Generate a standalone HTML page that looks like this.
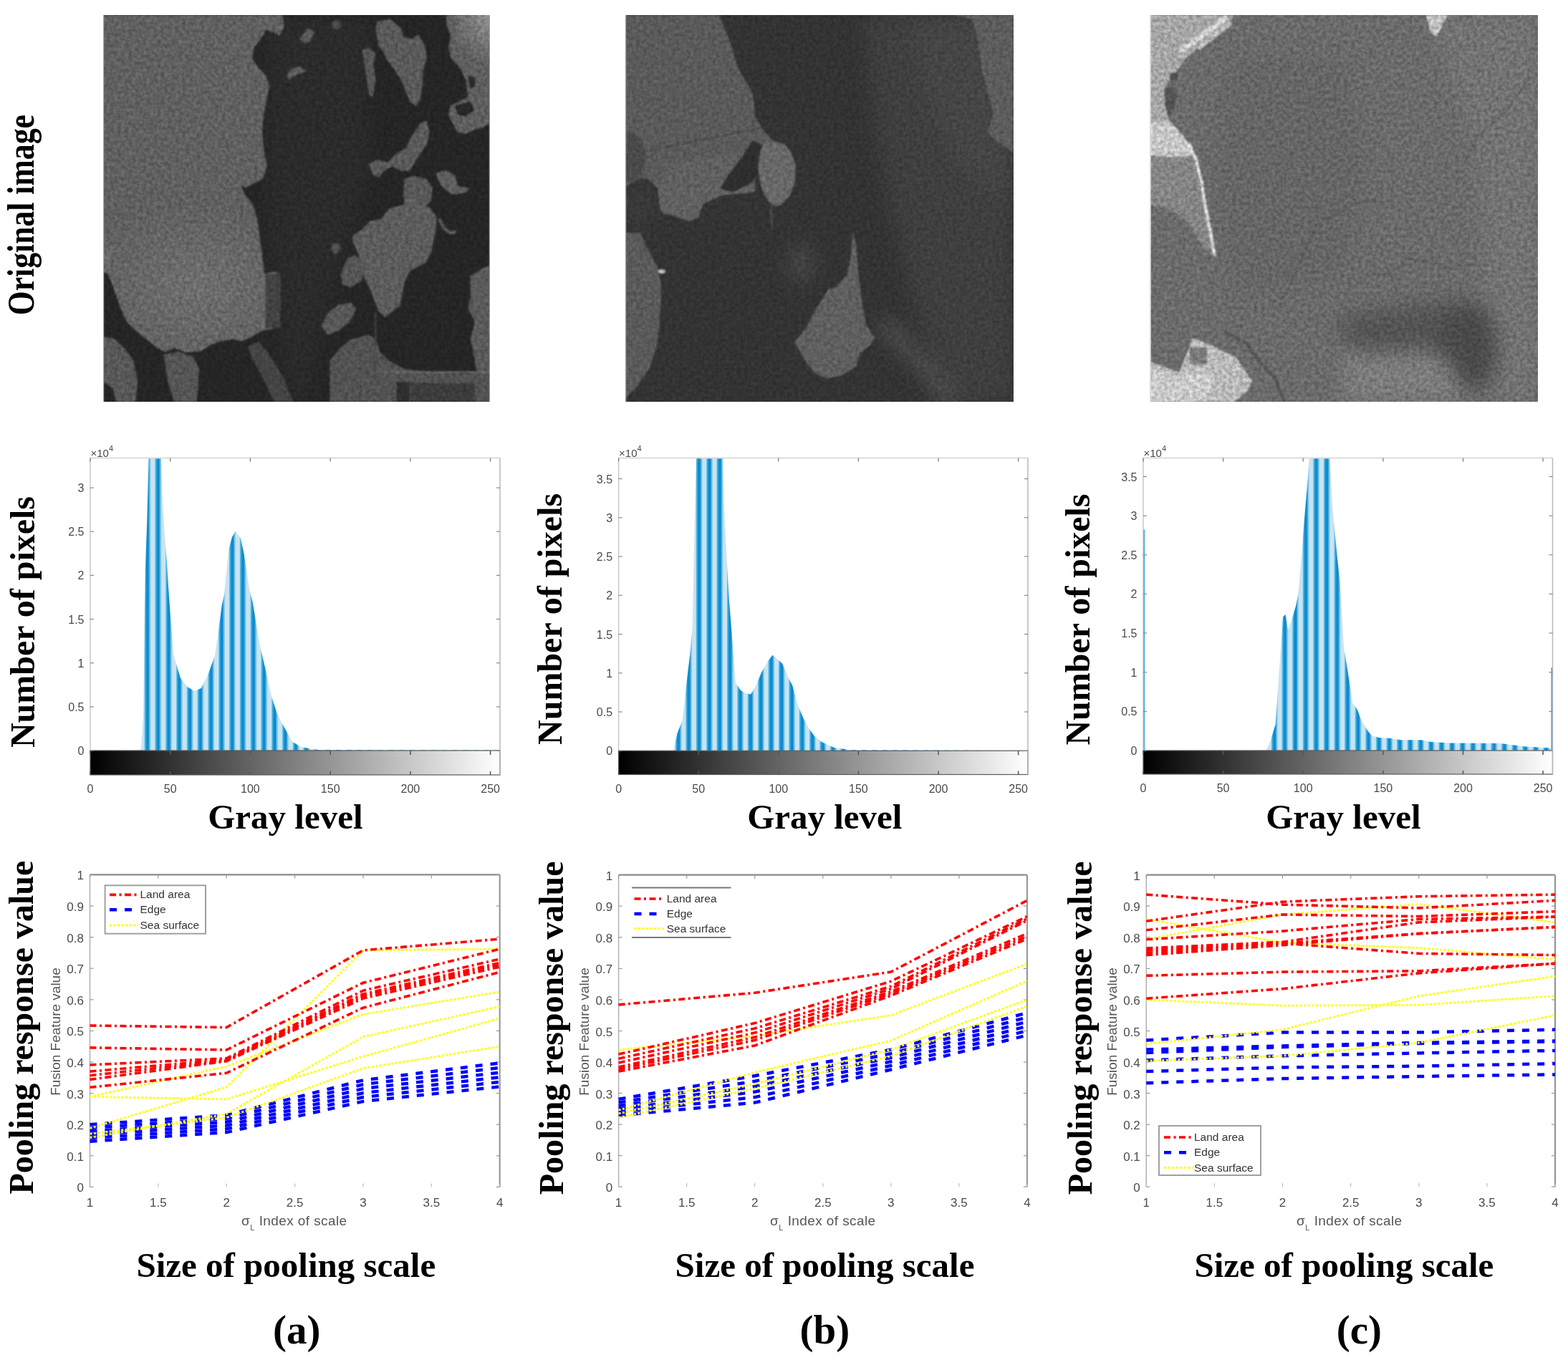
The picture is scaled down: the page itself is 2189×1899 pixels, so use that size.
<!DOCTYPE html>
<html><head><meta charset="utf-8"><title>Figure</title>
<style>
html,body{margin:0;padding:0;background:#fff;width:2189px;height:1899px;overflow:hidden}
svg.main{position:absolute;left:0;top:0;display:block}
.big{font-family:'Liberation Serif', 'Times New Roman', serif;font-weight:bold;fill:#000}
.tk{font-family:'Liberation Sans', Arial, sans-serif;font-size:16px;fill:#4a4a4a}
.tk2{font-family:'Liberation Sans', Arial, sans-serif;font-size:17px;fill:#4a4a4a}
.lg{font-family:'Liberation Sans', Arial, sans-serif;font-size:15.5px;fill:#333}
.sm{font-family:'Liberation Sans', Arial, sans-serif;font-size:19px;fill:#555}
.xl{font-family:'Liberation Sans', Arial, sans-serif;font-size:19px;fill:#555;letter-spacing:0.4px}
</style></head><body>
<svg class="main" width="2189" height="1899" viewBox="0 0 2189 1899" xmlns="http://www.w3.org/2000/svg">
<defs>
<filter id="soft0" filterUnits="userSpaceOnUse" x="-200" y="-200" width="2192" height="2192" color-interpolation-filters="sRGB"><feGaussianBlur stdDeviation="45"/></filter>
<filter id="sf0" filterUnits="userSpaceOnUse" x="0" y="0" width="1792" height="1792" color-interpolation-filters="sRGB"><feGaussianBlur in="SourceGraphic" stdDeviation="4" result="b"/><feTurbulence type="fractalNoise" baseFrequency="0.06" numOctaves="3" seed="3" result="n"/><feColorMatrix in="n" type="matrix" values="1 0 0 0 0  1 0 0 0 0  1 0 0 0 0  0 0 0 0 1" result="g"/><feComposite in="b" in2="g" operator="arithmetic" k1="0.55" k2="0.725" k3="0" k4="0"/></filter>
<clipPath id="c_g1land"><polygon points="0,0 830,0 840,50 820,95 790,80 755,70 730,110 700,150 690,200 715,240 755,280 770,330 760,380 750,430 740,490 738,560 748,650 760,700 740,760 700,780 660,800 640,790 655,830 695,880 715,950 728,1050 738,1120 748,1200 790,1190 820,1200 822,1300 820,1440 790,1452 740,1462 690,1490 640,1512 600,1502 540,1512 490,1532 450,1560 380,1562 330,1542 290,1562 250,1542 200,1502 150,1462 110,1422 90,1380 60,1300 40,1240 20,1200 0,1190"/></clipPath>
<radialGradient id="g1land"><stop offset="0" stop-color="#747474" stop-opacity="0.75"/><stop offset="1" stop-color="#747474" stop-opacity="0"/></radialGradient>
<radialGradient id="g1corner"><stop offset="0" stop-color="#929292" stop-opacity="1"/><stop offset="1" stop-color="#929292" stop-opacity="0"/></radialGradient>
<filter id="soft1" filterUnits="userSpaceOnUse" x="-200" y="-200" width="2199" height="2192" color-interpolation-filters="sRGB"><feGaussianBlur stdDeviation="45"/></filter>
<filter id="sf1" filterUnits="userSpaceOnUse" x="0" y="0" width="1799" height="1792" color-interpolation-filters="sRGB"><feGaussianBlur in="SourceGraphic" stdDeviation="4" result="b"/><feTurbulence type="fractalNoise" baseFrequency="0.06" numOctaves="3" seed="4" result="n"/><feColorMatrix in="n" type="matrix" values="1 0 0 0 0  1 0 0 0 0  1 0 0 0 0  0 0 0 0 1" result="g"/><feComposite in="b" in2="g" operator="arithmetic" k1="0.5" k2="0.75" k3="0" k4="0"/></filter>
<filter id="soft2" filterUnits="userSpaceOnUse" x="-200" y="-200" width="2199" height="2192" color-interpolation-filters="sRGB"><feGaussianBlur stdDeviation="45"/></filter>
<filter id="sf2" filterUnits="userSpaceOnUse" x="0" y="0" width="1799" height="1792" color-interpolation-filters="sRGB"><feGaussianBlur in="SourceGraphic" stdDeviation="4" result="b"/><feTurbulence type="fractalNoise" baseFrequency="0.06" numOctaves="3" seed="5" result="n"/><feColorMatrix in="n" type="matrix" values="1 0 0 0 0  1 0 0 0 0  1 0 0 0 0  0 0 0 0 1" result="g"/><feComposite in="b" in2="g" operator="arithmetic" k1="0.55" k2="0.725" k3="0" k4="0"/></filter>
<linearGradient id="cbar" x1="0" y1="0" x2="1" y2="0"><stop offset="0" stop-color="#000"/><stop offset="1" stop-color="#fff"/></linearGradient>
<clipPath id="hclip0"><polygon points="194.4,1048 194.4,1048 197,1046 200,1000 202.8,795 205.2,731 207.6,639.5 225,639.5 227,700 229.2,738 232.8,783 235.2,822 237.6,855 242.4,915 246,927 252,947 261.6,959 271.2,965 280.8,961 290.4,942 300,915 304.8,882 309.6,846 313.2,829 319.2,767 324,750 328.8,741.6 336,752 340.8,774 348,822 352.8,841 362.4,899 369.6,930 379.2,973 386.4,995 396,1014 408,1035.6 420,1043 444,1047 698,1047.5 698,1048"/><rect x="126" y="639.5" width="1" height="0"/></clipPath>
<pattern id="hpat0" patternUnits="userSpaceOnUse" x="302.2" y="0" width="14.8" height="2000"><rect x="0" y="0" width="14.8" height="2000" fill="#c8e4f3"/><rect x="3.3" y="0" width="1.8" height="2000" fill="#40afdd"/><rect x="5.1" y="0" width="4.6" height="2000" fill="#0b8bd0"/><rect x="9.7" y="0" width="1.8" height="2000" fill="#70c1e5"/></pattern>
<clipPath id="hclip1"><polygon points="940,1048.3 940,1048 945.5,1024 952.6,1006 959.7,942.7 963.2,914.5 966.7,875.6 970.3,702.5 972,639.6 1009,639.6 1011,709.5 1014.5,780 1018,840 1021.5,882.7 1026.8,953 1034,964 1041,968 1048,969.6 1054,960 1063.7,937.5 1072.8,922 1078.5,914.7 1085,920 1092.3,926.8 1100,945 1106.2,957 1114,985 1121.8,1003.6 1129.3,1017 1136.4,1027 1147,1036 1164.6,1044 1189,1047.3 1435,1048 1435,1048.3"/><rect x="863.6" y="639.6" width="1" height="0"/></clipPath>
<pattern id="hpat1" patternUnits="userSpaceOnUse" x="1040.9" y="0" width="14.4" height="2000"><rect x="0" y="0" width="14.4" height="2000" fill="#c8e4f3"/><rect x="3.1" y="0" width="1.8" height="2000" fill="#40afdd"/><rect x="4.9" y="0" width="4.6" height="2000" fill="#0b8bd0"/><rect x="9.5" y="0" width="1.8" height="2000" fill="#70c1e5"/></pattern>
<clipPath id="hclip2"><polygon points="1768,1048 1768,1048 1773.5,1034.6 1780.6,1011.7 1787.6,911 1791,861.5 1794.7,858 1798,879 1803.5,865 1808.8,847 1812.4,829.7 1817.7,766 1821,723.7 1824.7,681 1828,639.6 1856.5,639.6 1860,706 1863.6,745 1867,780 1870.7,812 1876,904 1881.3,935.7 1888.3,981.6 1895,991 1900,1005 1909.6,1020.8 1914.8,1027 1925.4,1030 1940,1030.7 1955,1033.3 1984,1033.3 1998,1035.9 2024.4,1037.5 2095,1038 2130,1042.4 2165.7,1044.5 2167,1046 2167,1048"/><rect x="1596" y="639.6" width="1" height="0"/></clipPath>
<pattern id="hpat2" patternUnits="userSpaceOnUse" x="1918" y="0" width="14.6" height="2000"><rect x="0" y="0" width="14.6" height="2000" fill="#c8e4f3"/><rect x="3.2" y="0" width="1.8" height="2000" fill="#40afdd"/><rect x="5" y="0" width="4.6" height="2000" fill="#0b8bd0"/><rect x="9.6" y="0" width="1.8" height="2000" fill="#70c1e5"/></pattern>
</defs>
<svg x="144" y="21" width="540" height="540" viewBox="0 0 1792 1792" preserveAspectRatio="none">
<g filter="url(#sf0)">
<rect x="-40" y="-40" width="1872" height="1872" fill="#252525"/>
<g filter="url(#soft0)">
<polygon points="760,0 1250,0 1220,400 1240,700 1150,1000 1060,1300 1000,1500 950,1792 860,1792 820,1500 760,1000" fill="#2b2b2b"/>
</g>
<polygon points="0,0 830,0 840,50 820,95 790,80 755,70 730,110 700,150 690,200 715,240 755,280 770,330 760,380 750,430 740,490 738,560 748,650 760,700 740,760 700,780 660,800 640,790 655,830 695,880 715,950 728,1050 738,1120 748,1200 790,1190 820,1200 822,1300 820,1440 790,1452 740,1462 690,1490 640,1512 600,1502 540,1512 490,1532 450,1560 380,1562 330,1542 290,1562 250,1542 200,1502 150,1462 110,1422 90,1380 60,1300 40,1240 20,1200 0,1190" fill="#606060"/>
<ellipse cx="430" cy="1250" rx="520" ry="380" fill="url(#g1land)" clip-path="url(#c_g1land)"/>
<rect x="752" y="1200" width="70" height="250" fill="#3a3a3a" fill-opacity="0.8"/>
<ellipse cx="15" cy="1120" rx="30" ry="50" fill="#6a6a6a"/>
<polygon points="0,1490 50,1500 100,1545 140,1600 160,1700 150,1792 60,1792 45,1730 0,1700" fill="#585858"/>
<polygon points="280,1575 350,1560 420,1585 445,1640 435,1792 330,1792 300,1700" fill="#555555"/>
<polygon points="670,1535 720,1512 765,1565 835,1680 880,1792 790,1792 740,1680 690,1590" fill="#444444"/>
<polygon points="910,110 950,60 980,80 960,120 930,132" fill="#5a5a5a"/>
<polygon points="850,285 868,252 910,238 942,260 918,270 885,282 862,300" fill="#5e5e5e"/>
<ellipse cx="1080" cy="45" rx="22" ry="22" fill="#4a4a4a"/>
<polygon points="1270,30 1330,20 1380,60 1390,100 1430,110 1460,90 1490,140 1500,200 1482,260 1480,320 1470,390 1450,422 1420,400 1400,350 1380,300 1360,270 1340,240 1310,200 1300,170 1280,150 1270,110 1262,60" fill="#5a5a5a"/>
<polygon points="1200,160 1232,150 1262,180 1252,230 1262,300 1250,380 1232,372 1222,300 1210,230" fill="#555555"/>
<polygon points="1590,0 1792,0 1792,500 1760,520 1720,532 1680,552 1640,542 1620,502 1600,462 1610,420 1650,400 1690,380 1680,300 1660,260 1640,230 1610,200 1600,150 1610,100 1590,40" fill="#5e5e5e"/>
<ellipse cx="1792" cy="0" rx="190" ry="230" fill="url(#g1corner)"/>
<polygon points="1690,280 1720,290 1725,330 1700,340" fill="#282828"/>
<polygon points="1630,420 1700,400 1720,440 1680,470 1640,460" fill="#282828"/>
<polygon points="1230,690 1270,670 1320,682 1360,640 1400,620 1430,560 1470,500 1500,490 1512,540 1500,600 1470,642 1440,690 1420,722 1380,722 1340,702 1300,722 1280,752 1250,742" fill="#5a5a5a"/>
<polygon points="1540,732 1590,720 1630,742 1642,792 1700,802 1680,822 1620,832 1590,812 1560,782" fill="#5e5e5e"/>
<polygon points="1396,760 1440,745 1500,760 1525,800 1520,860 1480,896 1420,890 1390,840" fill="#585858"/>
<polyline points="1560,950 1580,990 1610,1010 1630,1005" fill="none" stroke="#5a5a5a" stroke-width="14" stroke-linecap="round" stroke-linejoin="round"/>
<polygon points="1156,1021 1196,996 1236,956 1286,946 1326,896 1390,880 1400,840 1440,860 1511,890 1546,936 1541,996 1521,1096 1496,1146 1421,1186 1396,1236 1376,1346 1306,1401 1276,1371 1246,1296 1226,1246 1196,1196 1186,1121 1156,1046" fill="#5c5c5c"/>
<polygon points="1100,1200 1130,1130 1170,1110 1200,1150 1200,1230 1150,1262 1110,1252" fill="#555555"/>
<ellipse cx="1078" cy="1080" rx="22" ry="25" fill="#505050"/>
<polygon points="1010,1442 1040,1382 1090,1342 1150,1332 1172,1362 1142,1422 1092,1462 1042,1482" fill="#585858"/>
<polygon points="1700,1210 1760,1172 1792,1160 1792,1792 1742,1792 1740,1700 1722,1600 1702,1500 1722,1422 1692,1362 1702,1300" fill="#5a5a5a"/>
<polygon points="1050,1600 1100,1540 1150,1502 1230,1482 1262,1502 1282,1560 1322,1602 1402,1642 1500,1652 1600,1662 1700,1662 1792,1652 1792,1792 1050,1792" fill="#525252"/>
<rect x="1360" y="1700" width="60" height="92" fill="#2e2e2e"/>
<polygon points="1426,1705 1721,1705 1721,1792 1426,1792" fill="#3c3c3c"/>
<polyline points="1260,1655 1792,1655" fill="none" stroke="#6a6a6a" stroke-width="8" stroke-linecap="round" stroke-linejoin="round"/>
<polyline points="1262,1380 1262,1700" fill="none" stroke="#4a4a4a" stroke-width="6" stroke-linecap="round" stroke-linejoin="round"/>
</g>
<line x1="2" y1="0" x2="2" y2="1792" stroke="#a8a8a8" stroke-width="4"/>
<line x1="1790" y1="0" x2="1790" y2="1792" stroke="#9a9a9a" stroke-width="4"/>
</svg>
<svg x="873" y="21" width="542" height="540" viewBox="0 0 1799 1792" preserveAspectRatio="none">
<g filter="url(#sf1)">
<rect x="-40" y="-40" width="1879" height="1872" fill="#333333"/>
<g filter="url(#soft1)">
<polygon points="1100,0 1520,0 1600,40 1650,220 1690,400 1700,580 1799,650 1799,1792 1500,1792 1350,1400 1250,1000 1150,500" fill="#3f3f3f"/>
<polygon points="1300,0 1799,0 1799,900 1550,700 1400,400" fill="#454545"/>
<polyline points="1210,1440 1380,1620 1500,1792" fill="none" stroke="#4e4e4e" stroke-width="75" stroke-linecap="round" stroke-linejoin="round"/>
<ellipse cx="815" cy="1150" rx="55" ry="95" fill="#474747"/>
<ellipse cx="60" cy="880" rx="90" ry="110" fill="#3a3a3a"/>
</g>
<polygon points="0,0 435,0 488,131 522,244 592,366 601,470 644,540 690,585 640,600 600,700 600,820 450,835 360,875 340,935 300,955 265,945 210,925 175,920 160,895 150,805 100,755 50,765 0,795" fill="#5a5a5a"/>
<polygon points="160,895 150,805 200,700 400,650 550,640 600,700 600,820 450,835 360,875 340,935 300,955 265,945 210,925 175,920" fill="#606060"/>
<ellipse cx="0" cy="660" rx="95" ry="120" fill="#4a4a4a"/>
<polyline points="60,640 300,590 592,531 650,520" fill="none" stroke="#474747" stroke-width="5" stroke-linecap="round" stroke-linejoin="round"/>
<polygon points="590,580 650,610 625,705 590,775 500,820 440,805 475,745 550,645" fill="#2e2e2e"/>
<polygon points="640,590 690,585 740,600 770,640 790,700 785,780 760,840 720,880 690,885 660,860 630,800 615,720 620,650" fill="#686868"/>
<polyline points="675,885 680,985" fill="none" stroke="#505050" stroke-width="8" stroke-linecap="round" stroke-linejoin="round"/>
<polygon points="0,1009 70,1009 96,1070 148,1166 165,1244 165,1331 157,1436 148,1523 113,1636 52,1723 0,1775" fill="#5a5a5a"/>
<ellipse cx="168" cy="1188" rx="18" ry="10" fill="#c0c0c0"/>
<polygon points="1054,1000 1071,1070 1080,1201 1097,1331 1115,1436 1158,1497 1133,1532 1088,1566 1071,1627 1001,1671 932,1684 871,1654 827,1593 784,1514 836,1453 871,1384 914,1314 940,1270 975,1262 1028,1201 1045,1114" fill="#5f5f5f"/>
<polygon points="1515,0 1799,0 1799,636 1785,627 1707,575 1681,540 1707,453 1681,366 1654,261 1628,87 1602,17" fill="#5c5c5c"/>
</g>
<line x1="2" y1="0" x2="2" y2="1792" stroke="#9a9a9a" stroke-width="5"/>
</svg>
<svg x="1605" y="21" width="542" height="540" viewBox="0 0 1799 1792" preserveAspectRatio="none">
<g filter="url(#sf2)">
<rect x="-40" y="-40" width="1879" height="1872" fill="#6b6b6b"/>
<g filter="url(#soft2)">
<polygon points="1300,0 1799,0 1799,1792 1600,1792 1550,1200 1500,600" fill="#737373"/>
<polygon points="350,200 900,200 1000,700 900,1200 400,1300 300,800" fill="#666666"/>
<polygon points="880,1400 1000,1380 1200,1350 1350,1330 1500,1330 1600,1400 1620,1560 1580,1700 1480,1730 1400,1600 1300,1550 1150,1560 1000,1560 900,1520" fill="#545454"/>
<polygon points="1330,1480 1420,1340 1520,1340 1590,1480 1600,1640 1560,1720 1440,1725 1390,1640 1340,1560" fill="#4a4a4a"/>
<polygon points="896,1560 1000,1570 1150,1560 1300,1560 1400,1620 1440,1720 1450,1792 896,1792" fill="#7c7c7c"/>
</g>
<polygon points="0,0 385,0 375,50 300,100 225,150 160,210 125,260 100,280 70,340 75,400 85,460 90,490 40,500 0,500" fill="#a6a6a6"/>
<polyline points="350,15 250,90 150,165" fill="none" stroke="#d0d0d0" stroke-width="26" stroke-linecap="round" stroke-linejoin="round"/>
<polyline points="370,40 230,150" fill="none" stroke="#bdbdbd" stroke-width="20" stroke-linecap="round" stroke-linejoin="round"/>
<polygon points="95,270 130,268 125,300 95,302" fill="#4e4e4e"/>
<polygon points="68,340 110,335 125,380 110,440 85,465 72,420" fill="#535353"/>
<polygon points="0,500 90,490 130,530 180,590 210,650 120,660 0,650" fill="#c6c6c6"/>
<polygon points="0,650 120,660 210,650 235,750 255,896 290,1000 300,1116 250,1080 180,960 100,900 0,880" fill="#858585"/>
<polyline points="185,600 215,670 240,770 260,896 300,1110" fill="none" stroke="#dcdcdc" stroke-width="14" stroke-linecap="round" stroke-linejoin="round"/>
<polygon points="0,1606 135,1656 165,1586 200,1496 275,1526 400,1586 475,1696 450,1746 390,1792 0,1792" fill="#bababa"/>
<polygon points="0,1640 130,1680 250,1640 300,1700 250,1792 0,1792" fill="#cacaca"/>
<rect x="185" y="1540" width="80" height="78" fill="#7a7a7a"/>
<polygon points="1280,0 1380,0 1360,40 1330,100 1300,80" fill="#c0c0c0"/>
<polyline points="350,1471 450,1521 500,1596 575,1671 625,1792" fill="none" stroke="#575757" stroke-width="16" stroke-linecap="round" stroke-linejoin="round"/>
<polyline points="1021,1206 1121,1196 1196,1131 1321,1146 1396,1176" fill="none" stroke="#5c5c5c" stroke-width="9" stroke-linecap="round" stroke-linejoin="round"/>
<polyline points="1130,860 950,870 880,920 780,960 700,1150 600,1350" fill="none" stroke="#5c5c5c" stroke-width="8" stroke-linecap="round" stroke-linejoin="round"/>
<polyline points="1750,300 1650,450 1520,560 1450,700" fill="none" stroke="#5e5e5e" stroke-width="8" stroke-linecap="round" stroke-linejoin="round"/>
</g>
<line x1="3" y1="0" x2="3" y2="1792" stroke="#dedede" stroke-width="6"/>
</svg>
<polygon points="194.4,1048 194.4,1048 197,1046 200,1000 202.8,795 205.2,731 207.6,639.5 225,639.5 227,700 229.2,738 232.8,783 235.2,822 237.6,855 242.4,915 246,927 252,947 261.6,959 271.2,965 280.8,961 290.4,942 300,915 304.8,882 309.6,846 313.2,829 319.2,767 324,750 328.8,741.6 336,752 340.8,774 348,822 352.8,841 362.4,899 369.6,930 379.2,973 386.4,995 396,1014 408,1035.6 420,1043 444,1047 698,1047.5 698,1048" fill="url(#hpat0)"/>
<rect x="126" y="1048" width="572" height="34" fill="url(#cbar)"/>
<rect x="126" y="1048" width="572" height="34" fill="none" stroke="#5a5a5a" stroke-width="1.2"/>
<line x1="126" y1="639.5" x2="698" y2="639.5" stroke="#dcdcdc" stroke-width="2"/>
<line x1="126" y1="639.5" x2="126" y2="1048" stroke="#c8c8c8" stroke-width="1.5"/>
<line x1="698" y1="639.5" x2="698" y2="1082" stroke="#b8b8b8" stroke-width="1.5"/>
<line x1="126" y1="1048" x2="131" y2="1048" stroke="#888" stroke-width="1.2"/>
<line x1="693" y1="1048" x2="698" y2="1048" stroke="#888" stroke-width="1.2"/>
<text x="117.5" y="1054" text-anchor="end" class="tk">0</text>
<line x1="126" y1="986.9" x2="131" y2="986.9" stroke="#888" stroke-width="1.2"/>
<line x1="693" y1="986.9" x2="698" y2="986.9" stroke="#888" stroke-width="1.2"/>
<text x="117.5" y="992.9" text-anchor="end" class="tk">0.5</text>
<line x1="126" y1="925.7" x2="131" y2="925.7" stroke="#888" stroke-width="1.2"/>
<line x1="693" y1="925.7" x2="698" y2="925.7" stroke="#888" stroke-width="1.2"/>
<text x="117.5" y="931.7" text-anchor="end" class="tk">1</text>
<line x1="126" y1="864.5" x2="131" y2="864.5" stroke="#888" stroke-width="1.2"/>
<line x1="693" y1="864.5" x2="698" y2="864.5" stroke="#888" stroke-width="1.2"/>
<text x="117.5" y="870.5" text-anchor="end" class="tk">1.5</text>
<line x1="126" y1="803.4" x2="131" y2="803.4" stroke="#888" stroke-width="1.2"/>
<line x1="693" y1="803.4" x2="698" y2="803.4" stroke="#888" stroke-width="1.2"/>
<text x="117.5" y="809.4" text-anchor="end" class="tk">2</text>
<line x1="126" y1="742.2" x2="131" y2="742.2" stroke="#888" stroke-width="1.2"/>
<line x1="693" y1="742.2" x2="698" y2="742.2" stroke="#888" stroke-width="1.2"/>
<text x="117.5" y="748.2" text-anchor="end" class="tk">2.5</text>
<line x1="126" y1="681.1" x2="131" y2="681.1" stroke="#888" stroke-width="1.2"/>
<line x1="693" y1="681.1" x2="698" y2="681.1" stroke="#888" stroke-width="1.2"/>
<text x="117.5" y="687.1" text-anchor="end" class="tk">3</text>
<line x1="126" y1="639.5" x2="126" y2="644.5" stroke="#777" stroke-width="1.2"/>
<line x1="126" y1="1077" x2="126" y2="1082" stroke="#555" stroke-width="1.5"/>
<line x1="126" y1="1048" x2="126" y2="1054" stroke="#555" stroke-width="1.5"/>
<text x="126" y="1107" text-anchor="middle" class="tk">0</text>
<line x1="237.7" y1="639.5" x2="237.7" y2="644.5" stroke="#777" stroke-width="1.2"/>
<line x1="237.7" y1="1077" x2="237.7" y2="1082" stroke="#555" stroke-width="1.5"/>
<line x1="237.7" y1="1048" x2="237.7" y2="1054" stroke="#555" stroke-width="1.5"/>
<text x="237.7" y="1107" text-anchor="middle" class="tk">50</text>
<line x1="349.4" y1="639.5" x2="349.4" y2="644.5" stroke="#777" stroke-width="1.2"/>
<line x1="349.4" y1="1077" x2="349.4" y2="1082" stroke="#555" stroke-width="1.5"/>
<line x1="349.4" y1="1048" x2="349.4" y2="1054" stroke="#555" stroke-width="1.5"/>
<text x="349.4" y="1107" text-anchor="middle" class="tk">100</text>
<line x1="461.2" y1="639.5" x2="461.2" y2="644.5" stroke="#777" stroke-width="1.2"/>
<line x1="461.2" y1="1077" x2="461.2" y2="1082" stroke="#555" stroke-width="1.5"/>
<line x1="461.2" y1="1048" x2="461.2" y2="1054" stroke="#555" stroke-width="1.5"/>
<text x="461.2" y="1107" text-anchor="middle" class="tk">150</text>
<line x1="572.9" y1="639.5" x2="572.9" y2="644.5" stroke="#777" stroke-width="1.2"/>
<line x1="572.9" y1="1077" x2="572.9" y2="1082" stroke="#555" stroke-width="1.5"/>
<line x1="572.9" y1="1048" x2="572.9" y2="1054" stroke="#555" stroke-width="1.5"/>
<text x="572.9" y="1107" text-anchor="middle" class="tk">200</text>
<line x1="684.6" y1="639.5" x2="684.6" y2="644.5" stroke="#777" stroke-width="1.2"/>
<line x1="684.6" y1="1077" x2="684.6" y2="1082" stroke="#555" stroke-width="1.5"/>
<line x1="684.6" y1="1048" x2="684.6" y2="1054" stroke="#555" stroke-width="1.5"/>
<text x="684.6" y="1107" text-anchor="middle" class="tk">250</text>
<text x="126.5" y="637.5" class="tk" style="font-size:15px">&#215;10<tspan dy="-8" style="font-size:11px">4</tspan></text>
<polygon points="940,1048.3 940,1048 945.5,1024 952.6,1006 959.7,942.7 963.2,914.5 966.7,875.6 970.3,702.5 972,639.6 1009,639.6 1011,709.5 1014.5,780 1018,840 1021.5,882.7 1026.8,953 1034,964 1041,968 1048,969.6 1054,960 1063.7,937.5 1072.8,922 1078.5,914.7 1085,920 1092.3,926.8 1100,945 1106.2,957 1114,985 1121.8,1003.6 1129.3,1017 1136.4,1027 1147,1036 1164.6,1044 1189,1047.3 1435,1048 1435,1048.3" fill="url(#hpat1)"/>
<rect x="863.6" y="1048.3" width="571.4" height="33.2" fill="url(#cbar)"/>
<rect x="863.6" y="1048.3" width="571.4" height="33.2" fill="none" stroke="#5a5a5a" stroke-width="1.2"/>
<line x1="863.6" y1="639.6" x2="1435" y2="639.6" stroke="#dcdcdc" stroke-width="2"/>
<line x1="863.6" y1="639.6" x2="863.6" y2="1048.3" stroke="#c8c8c8" stroke-width="1.5"/>
<line x1="1435" y1="639.6" x2="1435" y2="1081.5" stroke="#b8b8b8" stroke-width="1.5"/>
<line x1="863.6" y1="1048.3" x2="868.6" y2="1048.3" stroke="#888" stroke-width="1.2"/>
<line x1="1430" y1="1048.3" x2="1435" y2="1048.3" stroke="#888" stroke-width="1.2"/>
<text x="855.1" y="1054.3" text-anchor="end" class="tk">0</text>
<line x1="863.6" y1="994" x2="868.6" y2="994" stroke="#888" stroke-width="1.2"/>
<line x1="1430" y1="994" x2="1435" y2="994" stroke="#888" stroke-width="1.2"/>
<text x="855.1" y="1000" text-anchor="end" class="tk">0.5</text>
<line x1="863.6" y1="939.8" x2="868.6" y2="939.8" stroke="#888" stroke-width="1.2"/>
<line x1="1430" y1="939.8" x2="1435" y2="939.8" stroke="#888" stroke-width="1.2"/>
<text x="855.1" y="945.8" text-anchor="end" class="tk">1</text>
<line x1="863.6" y1="885.5" x2="868.6" y2="885.5" stroke="#888" stroke-width="1.2"/>
<line x1="1430" y1="885.5" x2="1435" y2="885.5" stroke="#888" stroke-width="1.2"/>
<text x="855.1" y="891.5" text-anchor="end" class="tk">1.5</text>
<line x1="863.6" y1="831.3" x2="868.6" y2="831.3" stroke="#888" stroke-width="1.2"/>
<line x1="1430" y1="831.3" x2="1435" y2="831.3" stroke="#888" stroke-width="1.2"/>
<text x="855.1" y="837.3" text-anchor="end" class="tk">2</text>
<line x1="863.6" y1="777" x2="868.6" y2="777" stroke="#888" stroke-width="1.2"/>
<line x1="1430" y1="777" x2="1435" y2="777" stroke="#888" stroke-width="1.2"/>
<text x="855.1" y="783" text-anchor="end" class="tk">2.5</text>
<line x1="863.6" y1="722.8" x2="868.6" y2="722.8" stroke="#888" stroke-width="1.2"/>
<line x1="1430" y1="722.8" x2="1435" y2="722.8" stroke="#888" stroke-width="1.2"/>
<text x="855.1" y="728.8" text-anchor="end" class="tk">3</text>
<line x1="863.6" y1="668.5" x2="868.6" y2="668.5" stroke="#888" stroke-width="1.2"/>
<line x1="1430" y1="668.5" x2="1435" y2="668.5" stroke="#888" stroke-width="1.2"/>
<text x="855.1" y="674.5" text-anchor="end" class="tk">3.5</text>
<line x1="863.6" y1="639.6" x2="863.6" y2="644.6" stroke="#777" stroke-width="1.2"/>
<line x1="863.6" y1="1076.5" x2="863.6" y2="1081.5" stroke="#555" stroke-width="1.5"/>
<line x1="863.6" y1="1048.3" x2="863.6" y2="1054.3" stroke="#555" stroke-width="1.5"/>
<text x="863.6" y="1106.5" text-anchor="middle" class="tk">0</text>
<line x1="975.2" y1="639.6" x2="975.2" y2="644.6" stroke="#777" stroke-width="1.2"/>
<line x1="975.2" y1="1076.5" x2="975.2" y2="1081.5" stroke="#555" stroke-width="1.5"/>
<line x1="975.2" y1="1048.3" x2="975.2" y2="1054.3" stroke="#555" stroke-width="1.5"/>
<text x="975.2" y="1106.5" text-anchor="middle" class="tk">50</text>
<line x1="1086.8" y1="639.6" x2="1086.8" y2="644.6" stroke="#777" stroke-width="1.2"/>
<line x1="1086.8" y1="1076.5" x2="1086.8" y2="1081.5" stroke="#555" stroke-width="1.5"/>
<line x1="1086.8" y1="1048.3" x2="1086.8" y2="1054.3" stroke="#555" stroke-width="1.5"/>
<text x="1086.8" y="1106.5" text-anchor="middle" class="tk">100</text>
<line x1="1198.4" y1="639.6" x2="1198.4" y2="644.6" stroke="#777" stroke-width="1.2"/>
<line x1="1198.4" y1="1076.5" x2="1198.4" y2="1081.5" stroke="#555" stroke-width="1.5"/>
<line x1="1198.4" y1="1048.3" x2="1198.4" y2="1054.3" stroke="#555" stroke-width="1.5"/>
<text x="1198.4" y="1106.5" text-anchor="middle" class="tk">150</text>
<line x1="1310" y1="639.6" x2="1310" y2="644.6" stroke="#777" stroke-width="1.2"/>
<line x1="1310" y1="1076.5" x2="1310" y2="1081.5" stroke="#555" stroke-width="1.5"/>
<line x1="1310" y1="1048.3" x2="1310" y2="1054.3" stroke="#555" stroke-width="1.5"/>
<text x="1310" y="1106.5" text-anchor="middle" class="tk">200</text>
<line x1="1421.6" y1="639.6" x2="1421.6" y2="644.6" stroke="#777" stroke-width="1.2"/>
<line x1="1421.6" y1="1076.5" x2="1421.6" y2="1081.5" stroke="#555" stroke-width="1.5"/>
<line x1="1421.6" y1="1048.3" x2="1421.6" y2="1054.3" stroke="#555" stroke-width="1.5"/>
<text x="1421.6" y="1106.5" text-anchor="middle" class="tk">250</text>
<text x="864.1" y="637.6" class="tk" style="font-size:15px">&#215;10<tspan dy="-8" style="font-size:11px">4</tspan></text>
<polygon points="1768,1048 1768,1048 1773.5,1034.6 1780.6,1011.7 1787.6,911 1791,861.5 1794.7,858 1798,879 1803.5,865 1808.8,847 1812.4,829.7 1817.7,766 1821,723.7 1824.7,681 1828,639.6 1856.5,639.6 1860,706 1863.6,745 1867,780 1870.7,812 1876,904 1881.3,935.7 1888.3,981.6 1895,991 1900,1005 1909.6,1020.8 1914.8,1027 1925.4,1030 1940,1030.7 1955,1033.3 1984,1033.3 1998,1035.9 2024.4,1037.5 2095,1038 2130,1042.4 2165.7,1044.5 2167,1046 2167,1048" fill="url(#hpat2)"/>
<line x1="1597" y1="1048" x2="1597" y2="739.6" stroke="#2a9fd8" stroke-width="2"/>
<line x1="2166.5" y1="1048" x2="2166.5" y2="932" stroke="#2a9fd8" stroke-width="2"/>
<rect x="1596" y="1048" width="571.5" height="33" fill="url(#cbar)"/>
<rect x="1596" y="1048" width="571.5" height="33" fill="none" stroke="#5a5a5a" stroke-width="1.2"/>
<line x1="1596" y1="639.6" x2="2167.5" y2="639.6" stroke="#dcdcdc" stroke-width="2"/>
<line x1="1596" y1="639.6" x2="1596" y2="1048" stroke="#c8c8c8" stroke-width="1.5"/>
<line x1="2167.5" y1="639.6" x2="2167.5" y2="1081" stroke="#b8b8b8" stroke-width="1.5"/>
<line x1="1596" y1="1048" x2="1601" y2="1048" stroke="#888" stroke-width="1.2"/>
<line x1="2162.5" y1="1048" x2="2167.5" y2="1048" stroke="#888" stroke-width="1.2"/>
<text x="1587.5" y="1054" text-anchor="end" class="tk">0</text>
<line x1="1596" y1="993.4" x2="1601" y2="993.4" stroke="#888" stroke-width="1.2"/>
<line x1="2162.5" y1="993.4" x2="2167.5" y2="993.4" stroke="#888" stroke-width="1.2"/>
<text x="1587.5" y="999.4" text-anchor="end" class="tk">0.5</text>
<line x1="1596" y1="938.7" x2="1601" y2="938.7" stroke="#888" stroke-width="1.2"/>
<line x1="2162.5" y1="938.7" x2="2167.5" y2="938.7" stroke="#888" stroke-width="1.2"/>
<text x="1587.5" y="944.7" text-anchor="end" class="tk">1</text>
<line x1="1596" y1="884" x2="1601" y2="884" stroke="#888" stroke-width="1.2"/>
<line x1="2162.5" y1="884" x2="2167.5" y2="884" stroke="#888" stroke-width="1.2"/>
<text x="1587.5" y="890" text-anchor="end" class="tk">1.5</text>
<line x1="1596" y1="829.4" x2="1601" y2="829.4" stroke="#888" stroke-width="1.2"/>
<line x1="2162.5" y1="829.4" x2="2167.5" y2="829.4" stroke="#888" stroke-width="1.2"/>
<text x="1587.5" y="835.4" text-anchor="end" class="tk">2</text>
<line x1="1596" y1="774.8" x2="1601" y2="774.8" stroke="#888" stroke-width="1.2"/>
<line x1="2162.5" y1="774.8" x2="2167.5" y2="774.8" stroke="#888" stroke-width="1.2"/>
<text x="1587.5" y="780.8" text-anchor="end" class="tk">2.5</text>
<line x1="1596" y1="720.1" x2="1601" y2="720.1" stroke="#888" stroke-width="1.2"/>
<line x1="2162.5" y1="720.1" x2="2167.5" y2="720.1" stroke="#888" stroke-width="1.2"/>
<text x="1587.5" y="726.1" text-anchor="end" class="tk">3</text>
<line x1="1596" y1="665.5" x2="1601" y2="665.5" stroke="#888" stroke-width="1.2"/>
<line x1="2162.5" y1="665.5" x2="2167.5" y2="665.5" stroke="#888" stroke-width="1.2"/>
<text x="1587.5" y="671.5" text-anchor="end" class="tk">3.5</text>
<line x1="1596" y1="639.6" x2="1596" y2="644.6" stroke="#777" stroke-width="1.2"/>
<line x1="1596" y1="1076" x2="1596" y2="1081" stroke="#555" stroke-width="1.5"/>
<line x1="1596" y1="1048" x2="1596" y2="1054" stroke="#555" stroke-width="1.5"/>
<text x="1596" y="1106" text-anchor="middle" class="tk">0</text>
<line x1="1707.6" y1="639.6" x2="1707.6" y2="644.6" stroke="#777" stroke-width="1.2"/>
<line x1="1707.6" y1="1076" x2="1707.6" y2="1081" stroke="#555" stroke-width="1.5"/>
<line x1="1707.6" y1="1048" x2="1707.6" y2="1054" stroke="#555" stroke-width="1.5"/>
<text x="1707.6" y="1106" text-anchor="middle" class="tk">50</text>
<line x1="1819.2" y1="639.6" x2="1819.2" y2="644.6" stroke="#777" stroke-width="1.2"/>
<line x1="1819.2" y1="1076" x2="1819.2" y2="1081" stroke="#555" stroke-width="1.5"/>
<line x1="1819.2" y1="1048" x2="1819.2" y2="1054" stroke="#555" stroke-width="1.5"/>
<text x="1819.2" y="1106" text-anchor="middle" class="tk">100</text>
<line x1="1930.9" y1="639.6" x2="1930.9" y2="644.6" stroke="#777" stroke-width="1.2"/>
<line x1="1930.9" y1="1076" x2="1930.9" y2="1081" stroke="#555" stroke-width="1.5"/>
<line x1="1930.9" y1="1048" x2="1930.9" y2="1054" stroke="#555" stroke-width="1.5"/>
<text x="1930.9" y="1106" text-anchor="middle" class="tk">150</text>
<line x1="2042.5" y1="639.6" x2="2042.5" y2="644.6" stroke="#777" stroke-width="1.2"/>
<line x1="2042.5" y1="1076" x2="2042.5" y2="1081" stroke="#555" stroke-width="1.5"/>
<line x1="2042.5" y1="1048" x2="2042.5" y2="1054" stroke="#555" stroke-width="1.5"/>
<text x="2042.5" y="1106" text-anchor="middle" class="tk">200</text>
<line x1="2154.1" y1="639.6" x2="2154.1" y2="644.6" stroke="#777" stroke-width="1.2"/>
<line x1="2154.1" y1="1076" x2="2154.1" y2="1081" stroke="#555" stroke-width="1.5"/>
<line x1="2154.1" y1="1048" x2="2154.1" y2="1054" stroke="#555" stroke-width="1.5"/>
<text x="2154.1" y="1106" text-anchor="middle" class="tk">250</text>
<text x="1596.5" y="637.6" class="tk" style="font-size:15px">&#215;10<tspan dy="-8" style="font-size:11px">4</tspan></text>
<line x1="125.5" y1="1221.4" x2="697.7" y2="1221.4" stroke="#8a8a8a" stroke-width="2.2"/>
<line x1="125.5" y1="1221.4" x2="125.5" y2="1657.4" stroke="#b0b0b0" stroke-width="1.5"/>
<line x1="697.7" y1="1221.4" x2="697.7" y2="1657.4" stroke="#909090" stroke-width="2"/>
<line x1="125.5" y1="1657.4" x2="130.5" y2="1657.4" stroke="#999" stroke-width="1.2"/>
<line x1="692.7" y1="1657.4" x2="697.7" y2="1657.4" stroke="#999" stroke-width="1.2"/>
<text x="117" y="1664.4" text-anchor="end" class="tk2">0</text>
<line x1="125.5" y1="1613.8" x2="130.5" y2="1613.8" stroke="#999" stroke-width="1.2"/>
<line x1="692.7" y1="1613.8" x2="697.7" y2="1613.8" stroke="#999" stroke-width="1.2"/>
<text x="117" y="1620.8" text-anchor="end" class="tk2">0.1</text>
<line x1="125.5" y1="1570.2" x2="130.5" y2="1570.2" stroke="#999" stroke-width="1.2"/>
<line x1="692.7" y1="1570.2" x2="697.7" y2="1570.2" stroke="#999" stroke-width="1.2"/>
<text x="117" y="1577.2" text-anchor="end" class="tk2">0.2</text>
<line x1="125.5" y1="1526.6" x2="130.5" y2="1526.6" stroke="#999" stroke-width="1.2"/>
<line x1="692.7" y1="1526.6" x2="697.7" y2="1526.6" stroke="#999" stroke-width="1.2"/>
<text x="117" y="1533.6" text-anchor="end" class="tk2">0.3</text>
<line x1="125.5" y1="1483" x2="130.5" y2="1483" stroke="#999" stroke-width="1.2"/>
<line x1="692.7" y1="1483" x2="697.7" y2="1483" stroke="#999" stroke-width="1.2"/>
<text x="117" y="1490" text-anchor="end" class="tk2">0.4</text>
<line x1="125.5" y1="1439.4" x2="130.5" y2="1439.4" stroke="#999" stroke-width="1.2"/>
<line x1="692.7" y1="1439.4" x2="697.7" y2="1439.4" stroke="#999" stroke-width="1.2"/>
<text x="117" y="1446.4" text-anchor="end" class="tk2">0.5</text>
<line x1="125.5" y1="1395.8" x2="130.5" y2="1395.8" stroke="#999" stroke-width="1.2"/>
<line x1="692.7" y1="1395.8" x2="697.7" y2="1395.8" stroke="#999" stroke-width="1.2"/>
<text x="117" y="1402.8" text-anchor="end" class="tk2">0.6</text>
<line x1="125.5" y1="1352.2" x2="130.5" y2="1352.2" stroke="#999" stroke-width="1.2"/>
<line x1="692.7" y1="1352.2" x2="697.7" y2="1352.2" stroke="#999" stroke-width="1.2"/>
<text x="117" y="1359.2" text-anchor="end" class="tk2">0.7</text>
<line x1="125.5" y1="1308.6" x2="130.5" y2="1308.6" stroke="#999" stroke-width="1.2"/>
<line x1="692.7" y1="1308.6" x2="697.7" y2="1308.6" stroke="#999" stroke-width="1.2"/>
<text x="117" y="1315.6" text-anchor="end" class="tk2">0.8</text>
<line x1="125.5" y1="1265" x2="130.5" y2="1265" stroke="#999" stroke-width="1.2"/>
<line x1="692.7" y1="1265" x2="697.7" y2="1265" stroke="#999" stroke-width="1.2"/>
<text x="117" y="1272" text-anchor="end" class="tk2">0.9</text>
<line x1="125.5" y1="1221.4" x2="130.5" y2="1221.4" stroke="#999" stroke-width="1.2"/>
<line x1="692.7" y1="1221.4" x2="697.7" y2="1221.4" stroke="#999" stroke-width="1.2"/>
<text x="117" y="1228.4" text-anchor="end" class="tk2">1</text>
<line x1="125.5" y1="1221.4" x2="125.5" y2="1226.4" stroke="#999" stroke-width="1.2"/>
<line x1="125.5" y1="1652.4" x2="125.5" y2="1657.4" stroke="#bbb" stroke-width="1.2"/>
<text x="125.5" y="1685.4" text-anchor="middle" class="tk2">1</text>
<line x1="220.9" y1="1221.4" x2="220.9" y2="1226.4" stroke="#999" stroke-width="1.2"/>
<line x1="220.9" y1="1652.4" x2="220.9" y2="1657.4" stroke="#bbb" stroke-width="1.2"/>
<text x="220.9" y="1685.4" text-anchor="middle" class="tk2">1.5</text>
<line x1="316.2" y1="1221.4" x2="316.2" y2="1226.4" stroke="#999" stroke-width="1.2"/>
<line x1="316.2" y1="1652.4" x2="316.2" y2="1657.4" stroke="#bbb" stroke-width="1.2"/>
<text x="316.2" y="1685.4" text-anchor="middle" class="tk2">2</text>
<line x1="411.6" y1="1221.4" x2="411.6" y2="1226.4" stroke="#999" stroke-width="1.2"/>
<line x1="411.6" y1="1652.4" x2="411.6" y2="1657.4" stroke="#bbb" stroke-width="1.2"/>
<text x="411.6" y="1685.4" text-anchor="middle" class="tk2">2.5</text>
<line x1="507" y1="1221.4" x2="507" y2="1226.4" stroke="#999" stroke-width="1.2"/>
<line x1="507" y1="1652.4" x2="507" y2="1657.4" stroke="#bbb" stroke-width="1.2"/>
<text x="507" y="1685.4" text-anchor="middle" class="tk2">3</text>
<line x1="602.3" y1="1221.4" x2="602.3" y2="1226.4" stroke="#999" stroke-width="1.2"/>
<line x1="602.3" y1="1652.4" x2="602.3" y2="1657.4" stroke="#bbb" stroke-width="1.2"/>
<text x="602.3" y="1685.4" text-anchor="middle" class="tk2">3.5</text>
<line x1="697.7" y1="1221.4" x2="697.7" y2="1226.4" stroke="#999" stroke-width="1.2"/>
<line x1="697.7" y1="1652.4" x2="697.7" y2="1657.4" stroke="#bbb" stroke-width="1.2"/>
<text x="697.7" y="1685.4" text-anchor="middle" class="tk2">4</text>
<polyline points="125.5,1570.2 316.2,1557.1 507,1508.3 697.7,1484.3" fill="none" stroke="#0000ff" stroke-width="4.5" stroke-dasharray="10 11"/>
<polyline points="125.5,1574.9 316.2,1561.9 507,1514.2 697.7,1490.9" fill="none" stroke="#0000ff" stroke-width="4.5" stroke-dasharray="10 11"/>
<polyline points="125.5,1579.6 316.2,1566.7 507,1520.1 697.7,1497.6" fill="none" stroke="#0000ff" stroke-width="4.5" stroke-dasharray="10 11"/>
<polyline points="125.5,1584.3 316.2,1571.5 507,1526.1 697.7,1504.2" fill="none" stroke="#0000ff" stroke-width="4.5" stroke-dasharray="10 11"/>
<polyline points="125.5,1589 316.2,1576.3 507,1532 697.7,1510.8" fill="none" stroke="#0000ff" stroke-width="4.5" stroke-dasharray="10 11"/>
<polyline points="125.5,1593.7 316.2,1581.1 507,1537.9 697.7,1517.4" fill="none" stroke="#0000ff" stroke-width="4.5" stroke-dasharray="10 11"/>
<polyline points="125.5,1531.4 316.2,1489.1 507,1416.3 697.7,1384.9" fill="none" stroke="#ffff00" stroke-width="3.0" stroke-dasharray="3 2.5"/>
<polyline points="125.5,1531.4 316.2,1534.9 507,1475.2 697.7,1422" fill="none" stroke="#ffff00" stroke-width="3.0" stroke-dasharray="3 2.5"/>
<polyline points="125.5,1575.4 316.2,1517.9 507,1326.9 697.7,1325.2" fill="none" stroke="#ffff00" stroke-width="3.0" stroke-dasharray="3 2.5"/>
<polyline points="125.5,1588.5 316.2,1555.4 507,1447.7 697.7,1405.4" fill="none" stroke="#ffff00" stroke-width="3.0" stroke-dasharray="3 2.5"/>
<polyline points="125.5,1583.3 316.2,1560.6 507,1491.7 697.7,1461.2" fill="none" stroke="#ffff00" stroke-width="3.0" stroke-dasharray="3 2.5"/>
<polyline points="125.5,1432 316.2,1434.6 507,1326.9 697.7,1311.2" fill="none" stroke="#ff0000" stroke-width="3.6" stroke-dasharray="9 4.5 3 4.5"/>
<polyline points="125.5,1462.9 316.2,1466 507,1372.3 697.7,1325.2" fill="none" stroke="#ff0000" stroke-width="3.6" stroke-dasharray="9 4.5 3 4.5"/>
<polyline points="125.5,1486.9 316.2,1477.8 507,1383.2 697.7,1339.1" fill="none" stroke="#ff0000" stroke-width="3.6" stroke-dasharray="9 4.5 3 4.5"/>
<polyline points="125.5,1496.1 316.2,1479.5 507,1388 697.7,1344.4" fill="none" stroke="#ff0000" stroke-width="3.6" stroke-dasharray="9 4.5 3 4.5"/>
<polyline points="125.5,1501.7 316.2,1480.8 507,1390.6 697.7,1347" fill="none" stroke="#ff0000" stroke-width="3.6" stroke-dasharray="9 4.5 3 4.5"/>
<polyline points="125.5,1507.4 316.2,1481.7 507,1394.1 697.7,1350" fill="none" stroke="#ff0000" stroke-width="3.6" stroke-dasharray="9 4.5 3 4.5"/>
<polyline points="125.5,1518.3 316.2,1498.3 507,1407.1 697.7,1357.4" fill="none" stroke="#ff0000" stroke-width="3.6" stroke-dasharray="9 4.5 3 4.5"/>
<rect x="146.6" y="1236.3" width="140.4" height="67.4" fill="#fff" stroke="#a0a0a0" stroke-width="2"/>
<line x1="153" y1="1249.4" x2="192.6" y2="1249.4" stroke="#ff0000" stroke-width="3.6" stroke-dasharray="9 4.5 3 4.5"/>
<text x="195.5" y="1254.4" class="lg">Land area</text>
<line x1="153" y1="1270.2" x2="192.6" y2="1270.2" stroke="#0000ff" stroke-width="4.5" stroke-dasharray="10 11"/>
<text x="195.5" y="1275.2" class="lg">Edge</text>
<line x1="153" y1="1292" x2="192.6" y2="1292" stroke="#ffff00" stroke-width="3.0" stroke-dasharray="3 2.5"/>
<text x="195.5" y="1297" class="lg">Sea surface</text>
<text transform="translate(84.3,1440.5) rotate(-90)" text-anchor="middle" class="sm">Fusion Feature value</text>
<text x="337" y="1711" class="xl">&#963;<tspan dy="7" style="font-size:11px">L</tspan><tspan dy="-7" dx="6">Index of scale</tspan></text>
<line x1="863.6" y1="1221.7" x2="1433.9" y2="1221.7" stroke="#8a8a8a" stroke-width="2.2"/>
<line x1="863.6" y1="1221.7" x2="863.6" y2="1657.2" stroke="#b0b0b0" stroke-width="1.5"/>
<line x1="1433.9" y1="1221.7" x2="1433.9" y2="1657.2" stroke="#909090" stroke-width="2"/>
<line x1="863.6" y1="1657.2" x2="868.6" y2="1657.2" stroke="#999" stroke-width="1.2"/>
<line x1="1428.9" y1="1657.2" x2="1433.9" y2="1657.2" stroke="#999" stroke-width="1.2"/>
<text x="855.1" y="1664.2" text-anchor="end" class="tk2">0</text>
<line x1="863.6" y1="1613.7" x2="868.6" y2="1613.7" stroke="#999" stroke-width="1.2"/>
<line x1="1428.9" y1="1613.7" x2="1433.9" y2="1613.7" stroke="#999" stroke-width="1.2"/>
<text x="855.1" y="1620.7" text-anchor="end" class="tk2">0.1</text>
<line x1="863.6" y1="1570.1" x2="868.6" y2="1570.1" stroke="#999" stroke-width="1.2"/>
<line x1="1428.9" y1="1570.1" x2="1433.9" y2="1570.1" stroke="#999" stroke-width="1.2"/>
<text x="855.1" y="1577.1" text-anchor="end" class="tk2">0.2</text>
<line x1="863.6" y1="1526.5" x2="868.6" y2="1526.5" stroke="#999" stroke-width="1.2"/>
<line x1="1428.9" y1="1526.5" x2="1433.9" y2="1526.5" stroke="#999" stroke-width="1.2"/>
<text x="855.1" y="1533.5" text-anchor="end" class="tk2">0.3</text>
<line x1="863.6" y1="1483" x2="868.6" y2="1483" stroke="#999" stroke-width="1.2"/>
<line x1="1428.9" y1="1483" x2="1433.9" y2="1483" stroke="#999" stroke-width="1.2"/>
<text x="855.1" y="1490" text-anchor="end" class="tk2">0.4</text>
<line x1="863.6" y1="1439.5" x2="868.6" y2="1439.5" stroke="#999" stroke-width="1.2"/>
<line x1="1428.9" y1="1439.5" x2="1433.9" y2="1439.5" stroke="#999" stroke-width="1.2"/>
<text x="855.1" y="1446.5" text-anchor="end" class="tk2">0.5</text>
<line x1="863.6" y1="1395.9" x2="868.6" y2="1395.9" stroke="#999" stroke-width="1.2"/>
<line x1="1428.9" y1="1395.9" x2="1433.9" y2="1395.9" stroke="#999" stroke-width="1.2"/>
<text x="855.1" y="1402.9" text-anchor="end" class="tk2">0.6</text>
<line x1="863.6" y1="1352.4" x2="868.6" y2="1352.4" stroke="#999" stroke-width="1.2"/>
<line x1="1428.9" y1="1352.4" x2="1433.9" y2="1352.4" stroke="#999" stroke-width="1.2"/>
<text x="855.1" y="1359.4" text-anchor="end" class="tk2">0.7</text>
<line x1="863.6" y1="1308.8" x2="868.6" y2="1308.8" stroke="#999" stroke-width="1.2"/>
<line x1="1428.9" y1="1308.8" x2="1433.9" y2="1308.8" stroke="#999" stroke-width="1.2"/>
<text x="855.1" y="1315.8" text-anchor="end" class="tk2">0.8</text>
<line x1="863.6" y1="1265.2" x2="868.6" y2="1265.2" stroke="#999" stroke-width="1.2"/>
<line x1="1428.9" y1="1265.2" x2="1433.9" y2="1265.2" stroke="#999" stroke-width="1.2"/>
<text x="855.1" y="1272.2" text-anchor="end" class="tk2">0.9</text>
<line x1="863.6" y1="1221.7" x2="868.6" y2="1221.7" stroke="#999" stroke-width="1.2"/>
<line x1="1428.9" y1="1221.7" x2="1433.9" y2="1221.7" stroke="#999" stroke-width="1.2"/>
<text x="855.1" y="1228.7" text-anchor="end" class="tk2">1</text>
<line x1="863.6" y1="1221.7" x2="863.6" y2="1226.7" stroke="#999" stroke-width="1.2"/>
<line x1="863.6" y1="1652.2" x2="863.6" y2="1657.2" stroke="#bbb" stroke-width="1.2"/>
<text x="863.6" y="1685.2" text-anchor="middle" class="tk2">1</text>
<line x1="958.7" y1="1221.7" x2="958.7" y2="1226.7" stroke="#999" stroke-width="1.2"/>
<line x1="958.7" y1="1652.2" x2="958.7" y2="1657.2" stroke="#bbb" stroke-width="1.2"/>
<text x="958.7" y="1685.2" text-anchor="middle" class="tk2">1.5</text>
<line x1="1053.7" y1="1221.7" x2="1053.7" y2="1226.7" stroke="#999" stroke-width="1.2"/>
<line x1="1053.7" y1="1652.2" x2="1053.7" y2="1657.2" stroke="#bbb" stroke-width="1.2"/>
<text x="1053.7" y="1685.2" text-anchor="middle" class="tk2">2</text>
<line x1="1148.8" y1="1221.7" x2="1148.8" y2="1226.7" stroke="#999" stroke-width="1.2"/>
<line x1="1148.8" y1="1652.2" x2="1148.8" y2="1657.2" stroke="#bbb" stroke-width="1.2"/>
<text x="1148.8" y="1685.2" text-anchor="middle" class="tk2">2.5</text>
<line x1="1243.8" y1="1221.7" x2="1243.8" y2="1226.7" stroke="#999" stroke-width="1.2"/>
<line x1="1243.8" y1="1652.2" x2="1243.8" y2="1657.2" stroke="#bbb" stroke-width="1.2"/>
<text x="1243.8" y="1685.2" text-anchor="middle" class="tk2">3</text>
<line x1="1338.9" y1="1221.7" x2="1338.9" y2="1226.7" stroke="#999" stroke-width="1.2"/>
<line x1="1338.9" y1="1652.2" x2="1338.9" y2="1657.2" stroke="#bbb" stroke-width="1.2"/>
<text x="1338.9" y="1685.2" text-anchor="middle" class="tk2">3.5</text>
<line x1="1433.9" y1="1221.7" x2="1433.9" y2="1226.7" stroke="#999" stroke-width="1.2"/>
<line x1="1433.9" y1="1652.2" x2="1433.9" y2="1657.2" stroke="#bbb" stroke-width="1.2"/>
<text x="1433.9" y="1685.2" text-anchor="middle" class="tk2">4</text>
<polyline points="863.6,1534.8 1053.7,1502.2 1243.8,1465.6 1433.9,1414.2" fill="none" stroke="#0000ff" stroke-width="4.5" stroke-dasharray="10 11"/>
<polyline points="863.6,1539.4 1053.7,1509.7 1243.8,1471.2 1433.9,1420.5" fill="none" stroke="#0000ff" stroke-width="4.5" stroke-dasharray="10 11"/>
<polyline points="863.6,1543.9 1053.7,1517.1 1243.8,1476.7 1433.9,1426.7" fill="none" stroke="#0000ff" stroke-width="4.5" stroke-dasharray="10 11"/>
<polyline points="863.6,1548.4 1053.7,1524.6 1243.8,1482.3 1433.9,1433" fill="none" stroke="#0000ff" stroke-width="4.5" stroke-dasharray="10 11"/>
<polyline points="863.6,1552.9 1053.7,1532.1 1243.8,1487.9 1433.9,1439.3" fill="none" stroke="#0000ff" stroke-width="4.5" stroke-dasharray="10 11"/>
<polyline points="863.6,1557.5 1053.7,1539.6 1243.8,1493.5 1433.9,1445.5" fill="none" stroke="#0000ff" stroke-width="4.5" stroke-dasharray="10 11"/>
<polyline points="863.6,1466 1053.7,1446.4 1243.8,1417.7 1433.9,1345.8" fill="none" stroke="#ffff00" stroke-width="3.0" stroke-dasharray="3 2.5"/>
<polyline points="863.6,1550.1 1053.7,1497.4 1243.8,1453 1433.9,1369.8" fill="none" stroke="#ffff00" stroke-width="3.0" stroke-dasharray="3 2.5"/>
<polyline points="863.6,1554.9 1053.7,1513.5 1243.8,1465.6 1433.9,1395.9" fill="none" stroke="#ffff00" stroke-width="3.0" stroke-dasharray="3 2.5"/>
<polyline points="863.6,1560.5 1053.7,1520 1243.8,1474.7 1433.9,1405" fill="none" stroke="#ffff00" stroke-width="3.0" stroke-dasharray="3 2.5"/>
<polyline points="863.6,1402.9 1053.7,1386.3 1243.8,1357.1 1433.9,1257.4" fill="none" stroke="#ff0000" stroke-width="3.6" stroke-dasharray="9 4.5 3 4.5"/>
<polyline points="863.6,1472.1 1053.7,1428.6 1243.8,1370.2 1433.9,1279.6" fill="none" stroke="#ff0000" stroke-width="3.6" stroke-dasharray="9 4.5 3 4.5"/>
<polyline points="863.6,1478.2 1053.7,1436 1243.8,1377.2 1433.9,1282.7" fill="none" stroke="#ff0000" stroke-width="3.6" stroke-dasharray="9 4.5 3 4.5"/>
<polyline points="863.6,1483.9 1053.7,1442.1 1243.8,1380.7 1433.9,1285.3" fill="none" stroke="#ff0000" stroke-width="3.6" stroke-dasharray="9 4.5 3 4.5"/>
<polyline points="863.6,1490 1053.7,1448.2 1243.8,1384.6 1433.9,1303.6" fill="none" stroke="#ff0000" stroke-width="3.6" stroke-dasharray="9 4.5 3 4.5"/>
<polyline points="863.6,1493 1053.7,1452.5 1243.8,1387.2 1433.9,1307.5" fill="none" stroke="#ff0000" stroke-width="3.6" stroke-dasharray="9 4.5 3 4.5"/>
<polyline points="863.6,1496.1 1053.7,1459.9 1243.8,1390.2 1433.9,1311" fill="none" stroke="#ff0000" stroke-width="3.6" stroke-dasharray="9 4.5 3 4.5"/>
<rect x="882" y="1239.4" width="138.5" height="69.6" fill="#fff"/>
<line x1="882" y1="1239.4" x2="1020.5" y2="1239.4" stroke="#777" stroke-width="2"/>
<line x1="882" y1="1309" x2="1020.5" y2="1309" stroke="#777" stroke-width="2"/>
<line x1="885.5" y1="1255" x2="926" y2="1255" stroke="#ff0000" stroke-width="3.6" stroke-dasharray="9 4.5 3 4.5"/>
<text x="930.7" y="1260" class="lg">Land area</text>
<line x1="885.5" y1="1276" x2="926" y2="1276" stroke="#0000ff" stroke-width="4.5" stroke-dasharray="10 11"/>
<text x="930.7" y="1281" class="lg">Edge</text>
<line x1="885.5" y1="1296.6" x2="926" y2="1296.6" stroke="#ffff00" stroke-width="3.0" stroke-dasharray="3 2.5"/>
<text x="930.7" y="1301.6" class="lg">Sea surface</text>
<text transform="translate(822.4,1440.5) rotate(-90)" text-anchor="middle" class="sm">Fusion Feature value</text>
<text x="1075" y="1711" class="xl">&#963;<tspan dy="7" style="font-size:11px">L</tspan><tspan dy="-7" dx="6">Index of scale</tspan></text>
<line x1="1600.3" y1="1221.7" x2="2171" y2="1221.7" stroke="#8a8a8a" stroke-width="2.2"/>
<line x1="1600.3" y1="1221.7" x2="1600.3" y2="1657.2" stroke="#b0b0b0" stroke-width="1.5"/>
<line x1="2171" y1="1221.7" x2="2171" y2="1657.2" stroke="#909090" stroke-width="2"/>
<line x1="1600.3" y1="1657.2" x2="1605.3" y2="1657.2" stroke="#999" stroke-width="1.2"/>
<line x1="2166" y1="1657.2" x2="2171" y2="1657.2" stroke="#999" stroke-width="1.2"/>
<text x="1591.8" y="1664.2" text-anchor="end" class="tk2">0</text>
<line x1="1600.3" y1="1613.7" x2="1605.3" y2="1613.7" stroke="#999" stroke-width="1.2"/>
<line x1="2166" y1="1613.7" x2="2171" y2="1613.7" stroke="#999" stroke-width="1.2"/>
<text x="1591.8" y="1620.7" text-anchor="end" class="tk2">0.1</text>
<line x1="1600.3" y1="1570.1" x2="1605.3" y2="1570.1" stroke="#999" stroke-width="1.2"/>
<line x1="2166" y1="1570.1" x2="2171" y2="1570.1" stroke="#999" stroke-width="1.2"/>
<text x="1591.8" y="1577.1" text-anchor="end" class="tk2">0.2</text>
<line x1="1600.3" y1="1526.5" x2="1605.3" y2="1526.5" stroke="#999" stroke-width="1.2"/>
<line x1="2166" y1="1526.5" x2="2171" y2="1526.5" stroke="#999" stroke-width="1.2"/>
<text x="1591.8" y="1533.5" text-anchor="end" class="tk2">0.3</text>
<line x1="1600.3" y1="1483" x2="1605.3" y2="1483" stroke="#999" stroke-width="1.2"/>
<line x1="2166" y1="1483" x2="2171" y2="1483" stroke="#999" stroke-width="1.2"/>
<text x="1591.8" y="1490" text-anchor="end" class="tk2">0.4</text>
<line x1="1600.3" y1="1439.5" x2="1605.3" y2="1439.5" stroke="#999" stroke-width="1.2"/>
<line x1="2166" y1="1439.5" x2="2171" y2="1439.5" stroke="#999" stroke-width="1.2"/>
<text x="1591.8" y="1446.5" text-anchor="end" class="tk2">0.5</text>
<line x1="1600.3" y1="1395.9" x2="1605.3" y2="1395.9" stroke="#999" stroke-width="1.2"/>
<line x1="2166" y1="1395.9" x2="2171" y2="1395.9" stroke="#999" stroke-width="1.2"/>
<text x="1591.8" y="1402.9" text-anchor="end" class="tk2">0.6</text>
<line x1="1600.3" y1="1352.4" x2="1605.3" y2="1352.4" stroke="#999" stroke-width="1.2"/>
<line x1="2166" y1="1352.4" x2="2171" y2="1352.4" stroke="#999" stroke-width="1.2"/>
<text x="1591.8" y="1359.4" text-anchor="end" class="tk2">0.7</text>
<line x1="1600.3" y1="1308.8" x2="1605.3" y2="1308.8" stroke="#999" stroke-width="1.2"/>
<line x1="2166" y1="1308.8" x2="2171" y2="1308.8" stroke="#999" stroke-width="1.2"/>
<text x="1591.8" y="1315.8" text-anchor="end" class="tk2">0.8</text>
<line x1="1600.3" y1="1265.2" x2="1605.3" y2="1265.2" stroke="#999" stroke-width="1.2"/>
<line x1="2166" y1="1265.2" x2="2171" y2="1265.2" stroke="#999" stroke-width="1.2"/>
<text x="1591.8" y="1272.2" text-anchor="end" class="tk2">0.9</text>
<line x1="1600.3" y1="1221.7" x2="1605.3" y2="1221.7" stroke="#999" stroke-width="1.2"/>
<line x1="2166" y1="1221.7" x2="2171" y2="1221.7" stroke="#999" stroke-width="1.2"/>
<text x="1591.8" y="1228.7" text-anchor="end" class="tk2">1</text>
<line x1="1600.3" y1="1221.7" x2="1600.3" y2="1226.7" stroke="#999" stroke-width="1.2"/>
<line x1="1600.3" y1="1652.2" x2="1600.3" y2="1657.2" stroke="#bbb" stroke-width="1.2"/>
<text x="1600.3" y="1685.2" text-anchor="middle" class="tk2">1</text>
<line x1="1695.4" y1="1221.7" x2="1695.4" y2="1226.7" stroke="#999" stroke-width="1.2"/>
<line x1="1695.4" y1="1652.2" x2="1695.4" y2="1657.2" stroke="#bbb" stroke-width="1.2"/>
<text x="1695.4" y="1685.2" text-anchor="middle" class="tk2">1.5</text>
<line x1="1790.5" y1="1221.7" x2="1790.5" y2="1226.7" stroke="#999" stroke-width="1.2"/>
<line x1="1790.5" y1="1652.2" x2="1790.5" y2="1657.2" stroke="#bbb" stroke-width="1.2"/>
<text x="1790.5" y="1685.2" text-anchor="middle" class="tk2">2</text>
<line x1="1885.7" y1="1221.7" x2="1885.7" y2="1226.7" stroke="#999" stroke-width="1.2"/>
<line x1="1885.7" y1="1652.2" x2="1885.7" y2="1657.2" stroke="#bbb" stroke-width="1.2"/>
<text x="1885.7" y="1685.2" text-anchor="middle" class="tk2">2.5</text>
<line x1="1980.8" y1="1221.7" x2="1980.8" y2="1226.7" stroke="#999" stroke-width="1.2"/>
<line x1="1980.8" y1="1652.2" x2="1980.8" y2="1657.2" stroke="#bbb" stroke-width="1.2"/>
<text x="1980.8" y="1685.2" text-anchor="middle" class="tk2">3</text>
<line x1="2075.9" y1="1221.7" x2="2075.9" y2="1226.7" stroke="#999" stroke-width="1.2"/>
<line x1="2075.9" y1="1652.2" x2="2075.9" y2="1657.2" stroke="#bbb" stroke-width="1.2"/>
<text x="2075.9" y="1685.2" text-anchor="middle" class="tk2">3.5</text>
<line x1="2171" y1="1221.7" x2="2171" y2="1226.7" stroke="#999" stroke-width="1.2"/>
<line x1="2171" y1="1652.2" x2="2171" y2="1657.2" stroke="#bbb" stroke-width="1.2"/>
<text x="2171" y="1685.2" text-anchor="middle" class="tk2">4</text>
<polyline points="1600.3,1452.5 1790.5,1441.6 1980.8,1441.6 2171,1437.7" fill="none" stroke="#0000ff" stroke-width="4.5" stroke-dasharray="10 11"/>
<polyline points="1600.3,1465.6 1790.5,1460.4 1980.8,1456 2171,1453.4" fill="none" stroke="#0000ff" stroke-width="4.5" stroke-dasharray="10 11"/>
<polyline points="1600.3,1469.9 1790.5,1462.1 1980.8,1456.9 2171,1454.3" fill="none" stroke="#0000ff" stroke-width="4.5" stroke-dasharray="10 11"/>
<polyline points="1600.3,1480.4 1790.5,1474.3 1980.8,1470.4 2171,1466.9" fill="none" stroke="#0000ff" stroke-width="4.5" stroke-dasharray="10 11"/>
<polyline points="1600.3,1496.1 1790.5,1490.4 1980.8,1488.7 2171,1485.2" fill="none" stroke="#0000ff" stroke-width="4.5" stroke-dasharray="10 11"/>
<polyline points="1600.3,1512.2 1790.5,1506.1 1980.8,1503 2171,1500.4" fill="none" stroke="#0000ff" stroke-width="4.5" stroke-dasharray="10 11"/>
<polyline points="1600.3,1311.8 1790.5,1277 1980.8,1262.6 2171,1287.9" fill="none" stroke="#ffff00" stroke-width="3.0" stroke-dasharray="3 2.5"/>
<polyline points="1600.3,1283.5 1790.5,1316.2 1980.8,1323.6 2171,1339.7" fill="none" stroke="#ffff00" stroke-width="3.0" stroke-dasharray="3 2.5"/>
<polyline points="1600.3,1395.9 1790.5,1404.2 1980.8,1403.3 2171,1390.7" fill="none" stroke="#ffff00" stroke-width="3.0" stroke-dasharray="3 2.5"/>
<polyline points="1600.3,1457.7 1790.5,1437.7 1980.8,1390.7 2171,1363.2" fill="none" stroke="#ffff00" stroke-width="3.0" stroke-dasharray="3 2.5"/>
<polyline points="1600.3,1481.3 1790.5,1474.3 1980.8,1456 2171,1417.7" fill="none" stroke="#ffff00" stroke-width="3.0" stroke-dasharray="3 2.5"/>
<polyline points="1600.3,1249.1 1790.5,1263.1 1980.8,1267.9 2171,1257.4" fill="none" stroke="#ff0000" stroke-width="3.6" stroke-dasharray="9 4.5 3 4.5"/>
<polyline points="1600.3,1286.2 1790.5,1259.2 1980.8,1251.7 2171,1249.1" fill="none" stroke="#ff0000" stroke-width="3.6" stroke-dasharray="9 4.5 3 4.5"/>
<polyline points="1600.3,1298.8 1790.5,1277 1980.8,1279.6 2171,1272.7" fill="none" stroke="#ff0000" stroke-width="3.6" stroke-dasharray="9 4.5 3 4.5"/>
<polyline points="1600.3,1311.8 1790.5,1300.1 1980.8,1283.5 2171,1280.1" fill="none" stroke="#ff0000" stroke-width="3.6" stroke-dasharray="9 4.5 3 4.5"/>
<polyline points="1600.3,1324 1790.5,1315.3 1980.8,1287.9 2171,1280.1" fill="none" stroke="#ff0000" stroke-width="3.6" stroke-dasharray="9 4.5 3 4.5"/>
<polyline points="1600.3,1327.1 1790.5,1317.1 1980.8,1303.6 2171,1294.4" fill="none" stroke="#ff0000" stroke-width="3.6" stroke-dasharray="9 4.5 3 4.5"/>
<polyline points="1600.3,1330.6 1790.5,1317.1 1980.8,1331.4 2171,1333.6" fill="none" stroke="#ff0000" stroke-width="3.6" stroke-dasharray="9 4.5 3 4.5"/>
<polyline points="1600.3,1333.6 1790.5,1319.7 1980.8,1303.6 2171,1294.4" fill="none" stroke="#ff0000" stroke-width="3.6" stroke-dasharray="9 4.5 3 4.5"/>
<polyline points="1600.3,1362.4 1790.5,1357.1 1980.8,1355.8 2171,1345.4" fill="none" stroke="#ff0000" stroke-width="3.6" stroke-dasharray="9 4.5 3 4.5"/>
<polyline points="1600.3,1394.2 1790.5,1380.7 1980.8,1358.9 2171,1345.4" fill="none" stroke="#ff0000" stroke-width="3.6" stroke-dasharray="9 4.5 3 4.5"/>
<rect x="1618" y="1572" width="142" height="69" fill="#fff" stroke="#a0a0a0" stroke-width="2"/>
<line x1="1625" y1="1588" x2="1665.7" y2="1588" stroke="#ff0000" stroke-width="3.6" stroke-dasharray="9 4.5 3 4.5"/>
<text x="1667" y="1593" class="lg">Land area</text>
<line x1="1625" y1="1609.3" x2="1665.7" y2="1609.3" stroke="#0000ff" stroke-width="4.5" stroke-dasharray="10 11"/>
<text x="1667" y="1614.3" class="lg">Edge</text>
<line x1="1625" y1="1630.5" x2="1665.7" y2="1630.5" stroke="#ffff00" stroke-width="3.0" stroke-dasharray="3 2.5"/>
<text x="1667" y="1635.5" class="lg">Sea surface</text>
<text transform="translate(1559.1,1440.5) rotate(-90)" text-anchor="middle" class="sm">Fusion Feature value</text>
<text x="1810" y="1711" class="xl">&#963;<tspan dy="7" style="font-size:11px">L</tspan><tspan dy="-7" dx="6">Index of scale</tspan></text>
<text transform="translate(47.4,300.2) rotate(-90) scale(0.84,1)" text-anchor="middle" class="big" style="font-size:52px">Original image</text>
<text transform="translate(47.7,868.5) rotate(-90)" text-anchor="middle" class="big" style="font-size:48px">Number of pixels</text>
<text transform="translate(784.4,864.4) rotate(-90)" text-anchor="middle" class="big" style="font-size:48px">Number of pixels</text>
<text transform="translate(1521.4,865) rotate(-90)" text-anchor="middle" class="big" style="font-size:48px">Number of pixels</text>
<text transform="translate(46,1434.6) rotate(-90)" text-anchor="middle" class="big" style="font-size:48px">Pooling response value</text>
<text transform="translate(785.8,1435.3) rotate(-90)" text-anchor="middle" class="big" style="font-size:48px">Pooling response value</text>
<text transform="translate(1523.6,1435.4) rotate(-90)" text-anchor="middle" class="big" style="font-size:48px">Pooling response value</text>
<text transform="translate(398.4,1156.6)" text-anchor="middle" class="big" style="font-size:49px">Gray level</text>
<text transform="translate(1151.3,1156.8)" text-anchor="middle" class="big" style="font-size:49px">Gray level</text>
<text transform="translate(1875.4,1156.8)" text-anchor="middle" class="big" style="font-size:49px">Gray level</text>
<text transform="translate(399.3,1783)" text-anchor="middle" class="big" style="font-size:49px">Size of pooling scale</text>
<text transform="translate(1151.5,1782.7)" text-anchor="middle" class="big" style="font-size:49px">Size of pooling scale</text>
<text transform="translate(1876.4,1782.7)" text-anchor="middle" class="big" style="font-size:49px">Size of pooling scale</text>
<text transform="translate(414.3,1875.5)" text-anchor="middle" class="big" style="font-size:57px">(a)</text>
<text transform="translate(1151.4,1875.5)" text-anchor="middle" class="big" style="font-size:57px">(b)</text>
<text transform="translate(1897.3,1875.5)" text-anchor="middle" class="big" style="font-size:57px">(c)</text>
</svg>
</body></html>
